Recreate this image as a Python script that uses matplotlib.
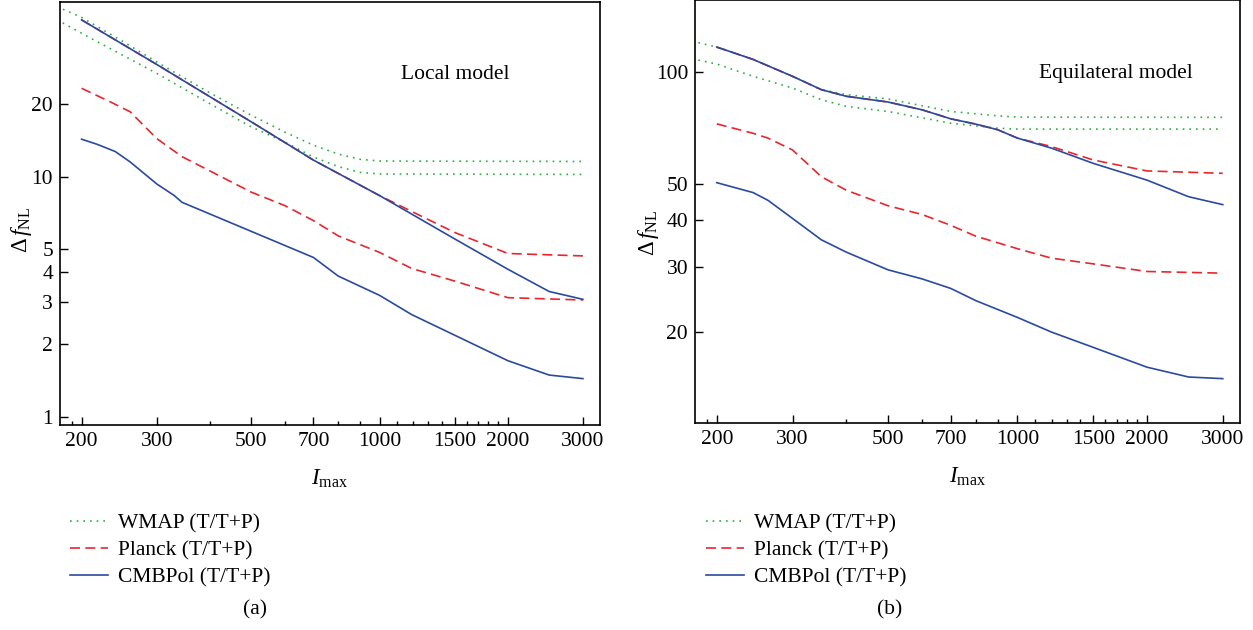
import matplotlib
matplotlib.use("Agg")
import matplotlib.pyplot as plt
from matplotlib.lines import Line2D
from matplotlib.ticker import FixedLocator, NullFormatter

plt.rcParams['font.family'] = ['Liberation Serif', 'DejaVu Serif']
plt.rcParams['mathtext.fontset'] = 'custom'
plt.rcParams['mathtext.rm'] = 'Liberation Serif'
plt.rcParams['mathtext.it'] = 'Liberation Serif:italic'

# ---- data ----
# (a) Local model
loc_wmap_t_l = [175, 200, 250, 300, 400, 500, 600, 700, 800, 900, 1000, 3000]
loc_wmap_t = [51.0, 46.0, 36.5, 30.0, 22.3, 18.0, 15.3, 13.5, 12.4, 11.8, 11.6, 11.55]
loc_wmap_tp_l = [175, 200, 300, 400, 500, 600, 700, 800, 900, 1000, 3000]
loc_wmap_tp = [45.0, 39.5, 26.9, 20.1, 16.1, 13.9, 12.05, 11.0, 10.4, 10.25, 10.2]
loc_planck_t_l = [200, 300, 500, 700, 1000, 1200, 1500, 2000, 3000]
loc_planck_t = [44.9, 29.3, 16.9, 11.7, 8.33, 7.1, 5.85, 4.78, 4.67]
loc_planck_tp_l = [200, 233, 260, 300, 344, 500, 600, 700, 800, 1000, 1190, 1500, 2000, 3000]
loc_planck_tp = [23.3, 20.5, 18.6, 14.4, 12.1, 8.61, 7.56, 6.55, 5.66, 4.83, 4.14, 3.67, 3.13, 3.06]
loc_cmbpol_t_l = [200, 300, 500, 700, 1000, 1500, 2000, 2500, 3000]
loc_cmbpol_t = [44.9, 29.3, 16.9, 11.7, 8.33, 5.5, 4.11, 3.32, 3.08]
loc_cmbpol_tp_l = [200, 218, 240, 260, 300, 330, 344, 700, 800, 1000, 1190, 2000, 2500, 3000]
loc_cmbpol_tp = [14.3, 13.6, 12.7, 11.5, 9.32, 8.33, 7.81, 4.60, 3.85, 3.20, 2.66, 1.71, 1.49, 1.44]

# (b) Equilateral model
eq_wmap_t_l = [175, 200, 243, 300, 350, 400, 500, 700, 900, 1000, 3000]
eq_wmap_t = [121, 116.6, 108, 97.3, 89.6, 86.9, 84.6, 78.3, 76.2, 75.6, 75.5]
eq_wmap_tp_l = [175, 200, 243, 300, 350, 400, 500, 700, 900, 1000, 3000]
eq_wmap_tp = [108.5, 105, 97.3, 90.5, 84.2, 80.8, 78.3, 72.8, 70.6, 70.2, 70.2]
eq_planck_t_l = [200, 243, 300, 350, 400, 500, 600, 700, 800, 900, 1000, 1200, 1500, 2000, 3000]
eq_planck_t = [116.6, 108, 97.3, 89.6, 86, 83.0, 79.1, 74.8, 72.4, 69.9, 66.4, 63.0, 58.0, 54.2, 53.4]
eq_planck_tp_l = [200, 243, 263, 300, 350, 400, 500, 600, 700, 800, 1000, 1200, 1500, 2000, 3000]
eq_planck_tp = [72.5, 68.4, 66.4, 61.7, 52.3, 48.1, 43.7, 41.4, 38.7, 36.2, 33.5, 31.6, 30.5, 29.1, 28.8]
eq_cmbpol_t_l = [200, 243, 300, 350, 400, 500, 600, 700, 800, 900, 1000, 1200, 1500, 2000, 2500, 3000]
eq_cmbpol_t = [116.6, 108, 97.3, 89.6, 86, 83.0, 79.1, 74.8, 72.4, 69.9, 66.4, 62.4, 56.8, 51.2, 46.2, 44.0]
eq_cmbpol_tp_l = [200, 243, 263, 300, 350, 400, 500, 600, 700, 800, 1000, 1200, 1500, 2000, 2500, 3000]
eq_cmbpol_tp = [50.4, 47.4, 45.2, 40.4, 35.4, 32.8, 29.4, 27.8, 26.2, 24.3, 21.9, 20.0, 18.2, 16.1, 15.15, 15.0]

x_major = [200, 300, 500, 700, 1000, 1500, 2000, 3000]
x_minor = [190, 400, 600, 800, 900, 1100, 1200, 1300, 1400, 1600, 1700, 1800, 1900]
y_ticks_a = [1, 2, 3, 4, 5, 10, 20]
y_ticks_b = [20, 30, 40, 50, 100]
labels = ['WMAP (T/T+P)', 'Planck (T/T+P)', 'CMBPol (T/T+P)']

green = '#2fae45'
red = '#e8262b'
blue = '#2a4aa0'
lw = 1.2
dot = dict(color=green, lw=lw, dashes=(1.0, 3.0))
dash = dict(color=red, lw=lw, dashes=(6.0, 3.2))
solid = dict(color=blue, lw=lw)

fs = 15.5
W, H = 1253, 630
fig = plt.figure(figsize=(W / 100, H / 100), dpi=100)
ax1 = fig.add_axes([60 / W, (H - 425) / H, 540 / W, 423 / H])
ax2 = fig.add_axes([695 / W, (H - 423) / H, 545 / W, 423 / H])


def style(ax, yticks, ylim):
    ax.set_xscale('log')
    ax.set_yscale('log')
    ax.set_xlim(178, 3290)
    ax.set_ylim(*ylim)
    ax.xaxis.set_major_locator(FixedLocator(x_major))
    ax.xaxis.set_minor_locator(FixedLocator(x_minor))
    ax.xaxis.set_minor_formatter(NullFormatter())
    ax.set_xticklabels([str(v) for v in x_major])
    ax.yaxis.set_major_locator(FixedLocator(yticks))
    ax.yaxis.set_minor_locator(FixedLocator([]))
    ax.set_yticklabels([str(v) for v in yticks])
    ax.tick_params(which='major', direction='in', length=6, width=1, labelsize=fs,
                   top=False, right=False, pad=5)
    ax.tick_params(which='minor', direction='in', length=3, width=1,
                   top=False, right=False)
    for s in ax.spines.values():
        s.set_linewidth(1.2)
    ax.set_xlabel(r'$I_{\mathrm{max}}$', fontsize=fs + 1)
    ax.set_ylabel(r'$\Delta\,f_{\mathrm{NL}}$', fontsize=fs + 1)


# (a)
ax1.plot(loc_wmap_t_l, loc_wmap_t, **dot)
ax1.plot(loc_wmap_tp_l, loc_wmap_tp, **dot)
ax1.plot(loc_planck_t_l, loc_planck_t, **dash)
ax1.plot(loc_planck_tp_l, loc_planck_tp, **dash)
ax1.plot(loc_cmbpol_t_l, loc_cmbpol_t, **solid)
ax1.plot(loc_cmbpol_tp_l, loc_cmbpol_tp, **solid)
style(ax1, y_ticks_a, (0.923, 53.3))
ax1.text(0.632, 0.829, 'Local model', transform=ax1.transAxes, fontsize=fs,
         va='center', ha='left')
ax1.xaxis.set_label_coords(0.5, -0.10)
ax1.yaxis.set_label_coords(-0.048, 0.46)

# (b)
ax2.plot(eq_wmap_t_l, eq_wmap_t, **dot)
ax2.plot(eq_wmap_tp_l, eq_wmap_tp, **dot)
ax2.plot(eq_planck_t_l, eq_planck_t, **dash)
ax2.plot(eq_planck_tp_l, eq_planck_tp, **dash)
ax2.plot(eq_cmbpol_t_l, eq_cmbpol_t, **solid)
ax2.plot(eq_cmbpol_tp_l, eq_cmbpol_tp, **solid)
style(ax2, y_ticks_b, (11.4, 156))
ax2.text(0.632, 0.827, 'Equilateral model', transform=ax2.transAxes, fontsize=fs,
         va='center', ha='left')
ax2.xaxis.set_label_coords(0.5, -0.10)
ax2.yaxis.set_label_coords(-0.062, 0.45)

# legends below each panel
handles = [Line2D([], [], **dot), Line2D([], [], **dash), Line2D([], [], **solid)]
for x0 in (70, 706):
    fig.legend(handles, labels, loc='upper left',
               bbox_to_anchor=(x0 / W, (H - 513) / H), frameon=False,
               fontsize=fs, handlelength=1.75, handletextpad=0.5,
               labelspacing=0.34, borderpad=0, borderaxespad=0)

fig.text(255 / W, (H - 610) / H, '(a)', fontsize=fs, ha='center', va='center')
fig.text(890 / W, (H - 610) / H, '(b)', fontsize=fs, ha='center', va='center')

fig.savefig('out.png', dpi=100)
